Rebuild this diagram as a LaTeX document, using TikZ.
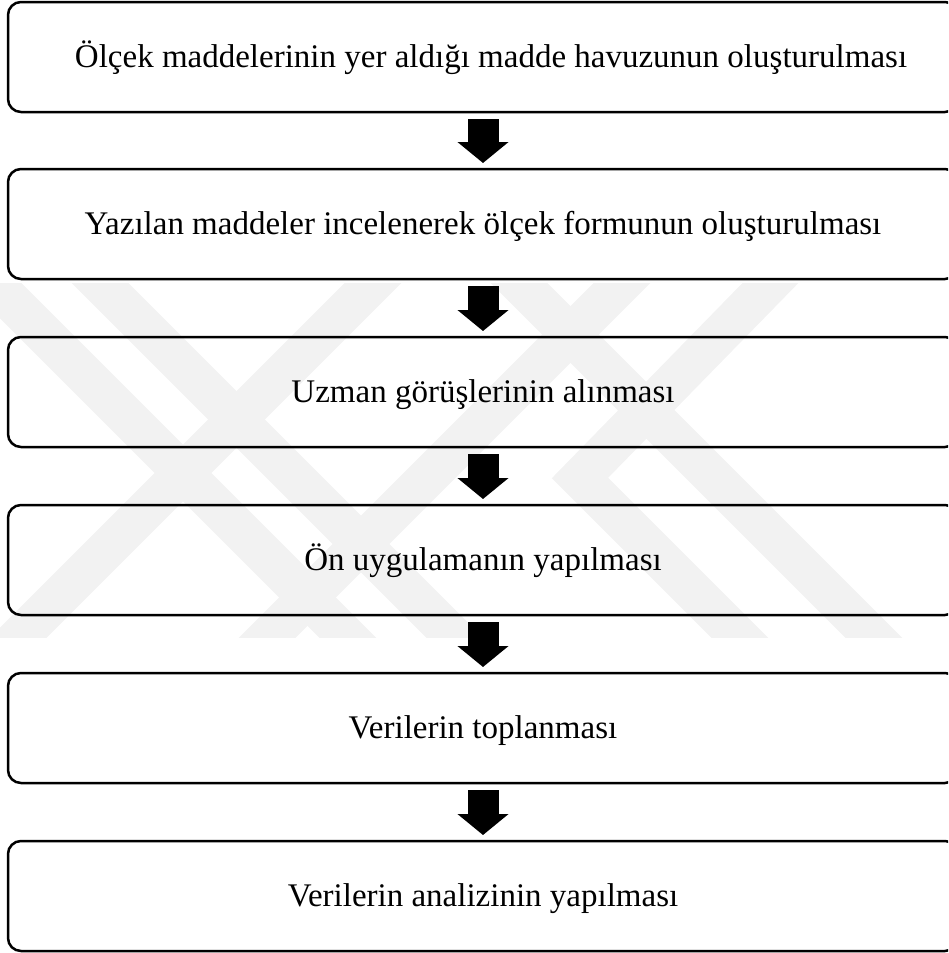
\documentclass[tikz,border=0pt]{standalone}
\usepackage{fontspec}
\setmainfont{Liberation Serif}
\usetikzlibrary{arrows.meta}
\tikzset{
  flowbox/.style={draw=black, line width=2.5pt, rounded corners=13pt, minimum width=950pt,
    minimum height=110pt, inner sep=0pt, outer sep=0pt, text height=24pt, text depth=4pt,
    font=\fontsize{33pt}{36pt}\selectfont, anchor=north},
  blockarrow/.style={line width=31pt, -{Triangle[width=50pt,length=21pt]}},
  wm/.style={line width=40pt, color=black!5}
}
\begin{document}
\begin{tikzpicture}[x=1pt,y=-1pt]
\useasboundingbox (0,0) rectangle (948,953);
\clip (0,0) rectangle (948,953);
% faint watermark
\begin{scope}
\clip (0,283) rectangle (948,637);
\draw[wm] (-20,270) -- (370,660);
\draw[wm] (80,263) -- (474,657);
\draw[wm] (393,263) -- (-10,666);
\draw[wm] (642,263) -- (240,665);
\draw[wm, line join=miter] (790,263) -- (580,478) -- (762,660);
\draw[wm] (499,263) -- (896,660);
\end{scope}
% boxes
\node[flowbox] (b1) at (483,2) {\hspace{16pt}Ölçek maddelerinin yer aldığı madde havuzunun oluşturulması};
\node[flowbox] (b2) at (483,169) {Yazılan maddeler incelenerek ölçek formunun oluşturulması};
\node[flowbox] (b3) at (483,337) {Uzman görüşlerinin alınması};
\node[flowbox] (b4) at (483,505) {Ön uygulamanın yapılması};
\node[flowbox] (b5) at (483,673) {Verilerin toplanması};
\node[flowbox] (b6) at (483,841) {Verilerin analizinin yapılması};
% arrows
\foreach \a/\b in {b1/b2,b2/b3,b3/b4,b4/b5,b5/b6}
  \draw[blockarrow, shorten <=7pt, shorten >=6pt] (\a.south) -- (\b.north);
\end{tikzpicture}
\end{document}
